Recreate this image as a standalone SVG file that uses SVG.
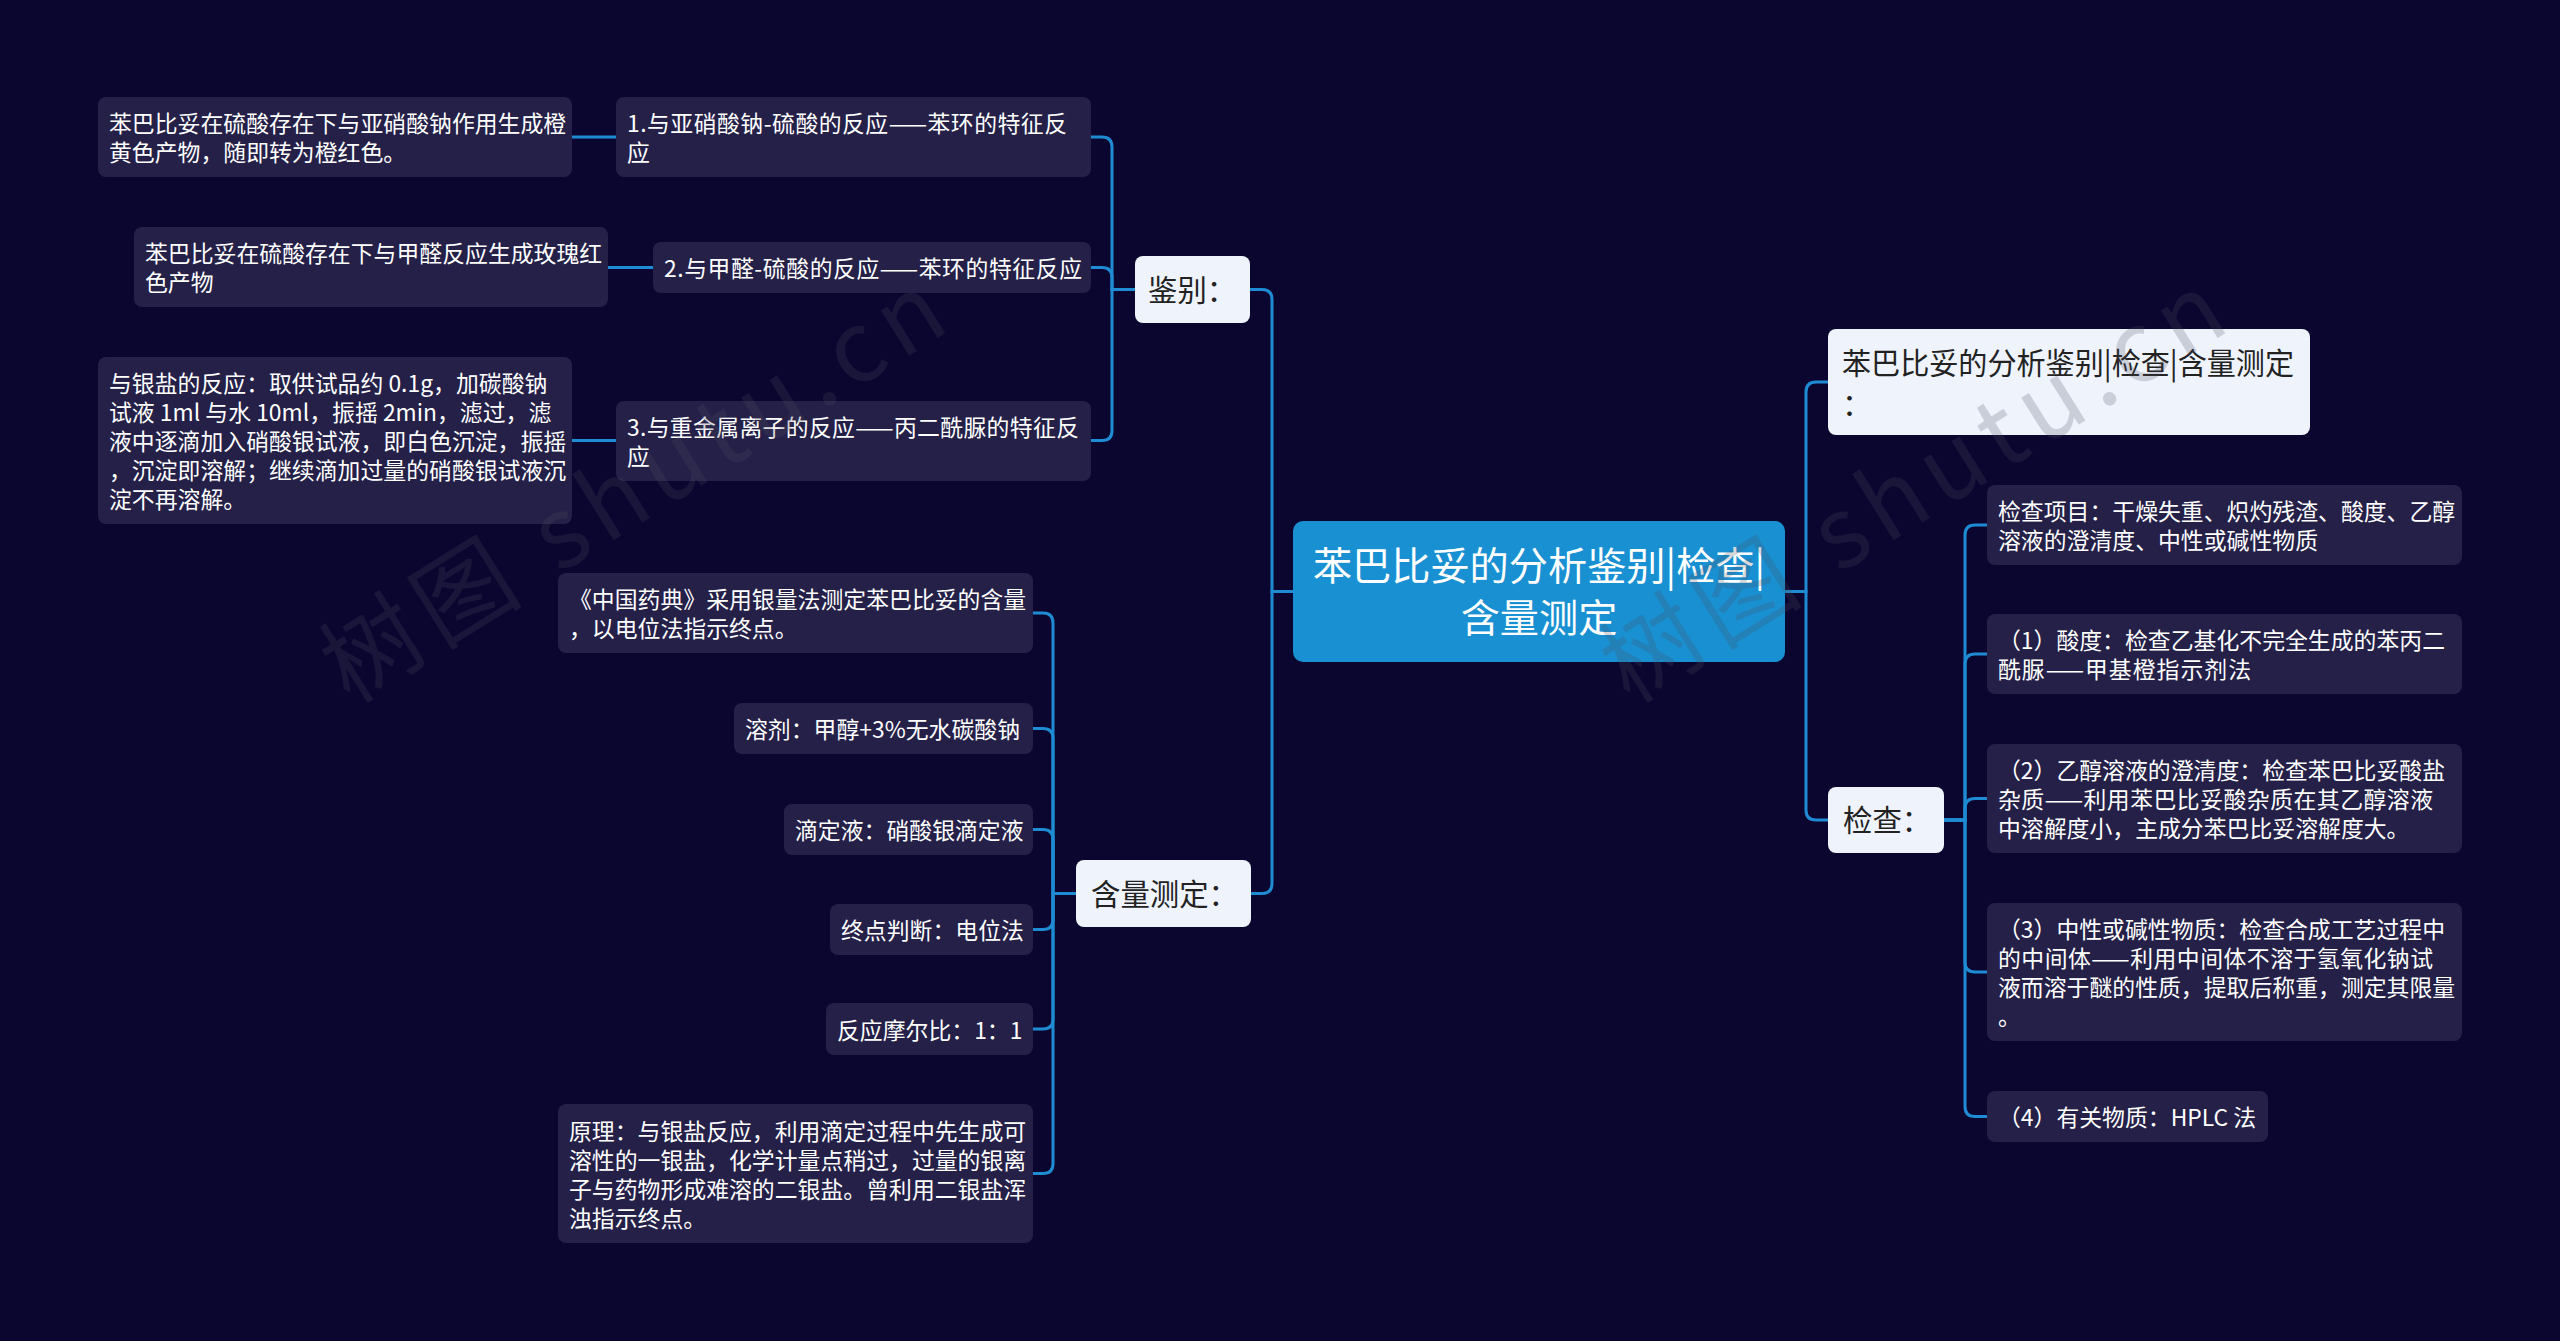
<svg xmlns="http://www.w3.org/2000/svg" width="2560" height="1341" viewBox="0 0 2560 1341">
<style>
text{font-family:"Noto Sans CJK SC","Noto Sans",sans-serif}
.leaf rect{fill:#242048}
.leaf text{fill:#ffffff;font-size:22.86px}
.light rect{fill:#eef3fc}
.light text{fill:#222222;font-size:29.4px}
.root rect{fill:#1890d2}
.root text{fill:#ffffff;font-size:39.2px}
#connectors path{stroke:#1f8bd3;stroke-width:3;fill:none}
.wm{fill:#505060;opacity:0.22;font-size:98px}
</style>
<rect x="0" y="0" width="2560" height="1341" fill="#0a0630"/>

<g id="connectors">
<path d="M1293,591.5 H1272 V299.5 Q1272,289.5 1262,289.5 H1250"/>
<path d="M1293,591.5 H1272 V883.5 Q1272,893.5 1262,893.5 H1251"/>
<path d="M1785,591.5 H1806 V392 Q1806,382 1816,382 H1828"/>
<path d="M1785,591.5 H1806 V810 Q1806,820 1816,820 H1828"/>
<path d="M1135,289.5 H1112 V147 Q1112,137 1102,137 H1091"/>
<path d="M1135,289.5 H1112 V277.5 Q1112,267.5 1102,267.5 H1091"/>
<path d="M1135,289.5 H1112 V430.5 Q1112,440.5 1102,440.5 H1091"/>
<path d="M572,137 H616"/>
<path d="M608,267.5 H653"/>
<path d="M572,440.5 H616"/>
<path d="M1076,893.5 H1053 V623 Q1053,613 1043,613 H1033"/>
<path d="M1076,893.5 H1053 V738.5 Q1053,728.5 1043,728.5 H1033"/>
<path d="M1076,893.5 H1053 V839.5 Q1053,829.5 1043,829.5 H1033"/>
<path d="M1076,893.5 H1053 V919.5 Q1053,929.5 1043,929.5 H1033"/>
<path d="M1076,893.5 H1053 V1019 Q1053,1029 1043,1029 H1033"/>
<path d="M1076,893.5 H1053 V1163.5 Q1053,1173.5 1043,1173.5 H1033"/>
<path d="M1944,820 H1965 V535 Q1965,525 1975,525 H1987"/>
<path d="M1944,820 H1965 V664 Q1965,654 1975,654 H1987"/>
<path d="M1944,820 H1965 V808.5 Q1965,798.5 1975,798.5 H1987"/>
<path d="M1944,820 H1965 V962 Q1965,972 1975,972 H1987"/>
<path d="M1944,820 H1965 V1106.5 Q1965,1116.5 1975,1116.5 H1987"/>
</g>

<g id="root" class="root">
<rect x="1293" y="521" width="492" height="141" rx="10"/>
<text x="1539" y="579.5" text-anchor="middle">苯巴比妥的分析鉴别|检查|</text>
<text x="1539" y="631.5" text-anchor="middle">含量测定</text>
</g>

<g id="n-jianbie" class="light">
<rect x="1135" y="256" width="115" height="67" rx="8"/>
<text x="1148" y="300.5">鉴别：</text>
</g>
<g id="n-hanliang" class="light">
<rect x="1076" y="860" width="175" height="67" rx="8"/>
<text x="1091" y="904.5">含量测定：</text>
</g>
<g id="n-title" class="light">
<rect x="1828" y="329" width="482" height="106" rx="8"/>
<text x="1842" y="374" style="font-size:30px" textLength="452" lengthAdjust="spacingAndGlyphs">苯巴比妥的分析鉴别|检查|含量测定</text>
<text x="1842" y="414.5" style="font-size:30px">：</text>
</g>
<g id="n-jiancha" class="light">
<rect x="1828" y="787" width="116" height="66" rx="8"/>
<text x="1843" y="831">检查：</text>
</g>

<g id="l1" class="leaf">
<rect x="616" y="97" width="475" height="80" rx="8"/>
<text x="627" y="132" textLength="440" lengthAdjust="spacing">1.与亚硝酸钠-硫酸的反应——苯环的特征反</text>
<text x="627" y="161">应</text>
</g>
<g id="a1" class="leaf">
<rect x="98" y="97" width="474" height="80" rx="8"/>
<text x="109" y="132">苯巴比妥在硫酸存在下与亚硝酸钠作用生成橙</text>
<text x="109" y="161">黄色产物，随即转为橙红色。</text>
</g>
<g id="l2" class="leaf">
<rect x="653" y="242" width="438" height="51" rx="8"/>
<text x="664" y="277" textLength="418" lengthAdjust="spacing">2.与甲醛-硫酸的反应——苯环的特征反应</text>
</g>
<g id="a2" class="leaf">
<rect x="134" y="227" width="474" height="80" rx="8"/>
<text x="145" y="262">苯巴比妥在硫酸存在下与甲醛反应生成玫瑰红</text>
<text x="145" y="291">色产物</text>
</g>
<g id="l3" class="leaf">
<rect x="616" y="401" width="475" height="80" rx="8"/>
<text x="627" y="435.5" textLength="452" lengthAdjust="spacing">3.与重金属离子的反应——丙二酰脲的特征反</text>
<text x="627" y="464.5">应</text>
</g>
<g id="a3" class="leaf">
<rect x="98" y="357" width="474" height="167" rx="8"/>
<text x="109" y="392">与银盐的反应：取供试品约 0.1g，加碳酸钠</text>
<text x="109" y="421">试液 1ml 与水 10ml，振摇 2min，滤过，滤</text>
<text x="109" y="450">液中逐滴加入硝酸银试液，即白色沉淀，振摇</text>
<text x="109" y="479">，沉淀即溶解；继续滴加过量的硝酸银试液沉</text>
<text x="109" y="508">淀不再溶解。</text>
</g>

<g id="m1" class="leaf">
<rect x="558" y="573" width="475" height="80" rx="8"/>
<text x="569" y="608">《中国药典》采用银量法测定苯巴比妥的含量</text>
<text x="569" y="637">，以电位法指示终点。</text>
</g>
<g id="m2" class="leaf">
<rect x="734" y="703" width="299" height="51" rx="8"/>
<text x="745" y="738">溶剂：甲醇+3%无水碳酸钠</text>
</g>
<g id="m3" class="leaf">
<rect x="784" y="804" width="249" height="51" rx="8"/>
<text x="795" y="839">滴定液：硝酸银滴定液</text>
</g>
<g id="m4" class="leaf">
<rect x="830" y="904" width="203" height="51" rx="8"/>
<text x="841" y="939">终点判断：电位法</text>
</g>
<g id="m5" class="leaf">
<rect x="826" y="1003" width="207" height="52" rx="8"/>
<text x="837" y="1038.5">反应摩尔比：1：1</text>
</g>
<g id="m6" class="leaf">
<rect x="558" y="1104" width="475" height="139" rx="8"/>
<text x="569" y="1139.5">原理：与银盐反应，利用滴定过程中先生成可</text>
<text x="569" y="1168.5">溶性的一银盐，化学计量点稍过，过量的银离</text>
<text x="569" y="1197.5">子与药物形成难溶的二银盐。曾利用二银盐浑</text>
<text x="569" y="1226.5">浊指示终点。</text>
</g>

<g id="r1" class="leaf">
<rect x="1987" y="485" width="475" height="80" rx="8"/>
<text x="1998" y="520">检查项目：干燥失重、炽灼残渣、酸度、乙醇</text>
<text x="1998" y="549">溶液的澄清度、中性或碱性物质</text>
</g>
<g id="r2" class="leaf">
<rect x="1987" y="614" width="475" height="80" rx="8"/>
<text x="1998" y="649">（1）酸度：检查乙基化不完全生成的苯丙二</text>
<text x="1998" y="678" textLength="253" lengthAdjust="spacing">酰脲——甲基橙指示剂法</text>
</g>
<g id="r3" class="leaf">
<rect x="1987" y="744" width="475" height="109" rx="8"/>
<text x="1998" y="779">（2）乙醇溶液的澄清度：检查苯巴比妥酸盐</text>
<text x="1998" y="808" textLength="435" lengthAdjust="spacing">杂质——利用苯巴比妥酸杂质在其乙醇溶液</text>
<text x="1998" y="837">中溶解度小，主成分苯巴比妥溶解度大。</text>
</g>
<g id="r4" class="leaf">
<rect x="1987" y="903" width="475" height="138" rx="8"/>
<text x="1998" y="938">（3）中性或碱性物质：检查合成工艺过程中</text>
<text x="1998" y="967" textLength="435" lengthAdjust="spacing">的中间体——利用中间体不溶于氢氧化钠试</text>
<text x="1998" y="996">液而溶于醚的性质，提取后称重，测定其限量</text>
<text x="1998" y="1025">。</text>
</g>
<g id="r5" class="leaf">
<rect x="1987" y="1091" width="281" height="51" rx="8"/>
<text x="1998" y="1126">（4）有关物质：HPLC 法</text>
</g>

<g id="watermarks">
<text class="wm" transform="translate(350,705) rotate(-32)" textLength="710" lengthAdjust="spacing">树图 shutu.cn</text>
<text class="wm" transform="translate(1630,705) rotate(-32)" textLength="710" lengthAdjust="spacing">树图 shutu.cn</text>
</g>
</svg>
